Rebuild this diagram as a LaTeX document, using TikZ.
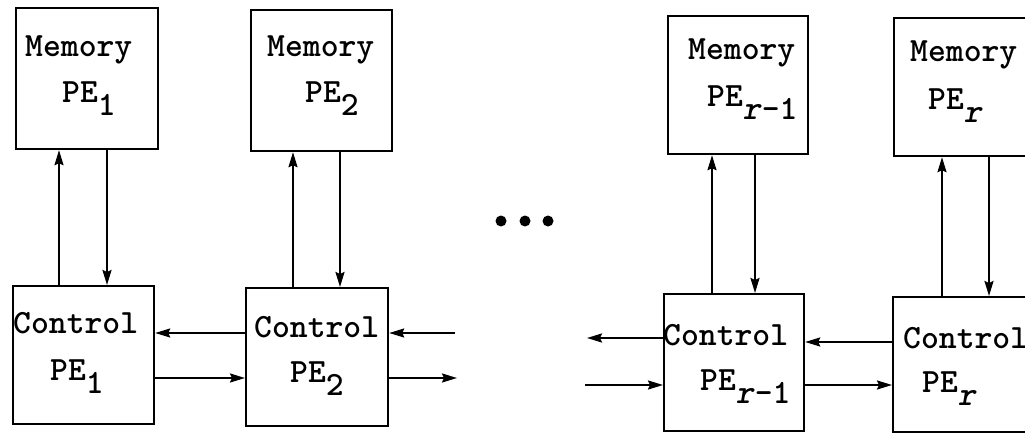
\documentclass[tikz,border=0pt]{standalone}
\usepackage{fontspec}
\usetikzlibrary{arrows.meta}
% subscript set nearly full size and dropped below the baseline
\newcommand\lowsub[1]{\raisebox{-13pt}{#1}}

\begin{document}
\begin{tikzpicture}[x=1pt,y=-1pt,
  box/.style={draw,line width=2.2pt,inner sep=0pt,anchor=north west},
  lbl/.style={anchor=base west,inner sep=0pt,font=\fontsize{34}{34}\selectfont\ttfamily\bfseries},
  arr/.style={line width=2pt,-{Stealth[length=15pt,width=9pt,inset=2pt]}},
]
\useasboundingbox (0,0) rectangle (1025,433);
\clip (0,0) rectangle (1025,433);

% memory and control units
\node[box,minimum width=142pt,minimum height=141pt] (m1) at (15,7) {};
\node[box,minimum width=141pt,minimum height=138pt] (c1) at (12,285) {};
\node[box,minimum width=141pt,minimum height=141pt] (m2) at (250,9) {};
\node[box,minimum width=142pt,minimum height=138pt] (c2) at (245,287) {};
\node[box,minimum width=140pt,minimum height=138pt] (m3) at (667,15) {};
\node[box,minimum width=140pt,minimum height=137pt] (c3) at (663,293) {};
\node[box,minimum width=141pt,minimum height=138pt] (m4) at (893,17) {};
\node[box,minimum width=141pt,minimum height=135pt] (c4) at (892,296) {};

% labels
\node[lbl] (m1a) at (25,57) {Memory};
\node[lbl] (m1b) at (62,103) {PE\lowsub{1}};
\node[lbl] (m2a) at (267,57) {Memory};
\node[lbl] (m2b) at (305,103) {PE\lowsub{2}};
\node[lbl] (m3a) at (688,60) {Memory};
\node[lbl] (m3b) at (707,107) {PE\lowsub{\textit{r}-1}};
\node[lbl] (m4a) at (910,62) {Memory};
\node[lbl] (m4b) at (928,110) {PE\lowsub{\textit{r}}};

\node[lbl] (c1a) at (13,333) {Control};
\node[lbl] (c1b) at (50,380) {PE\lowsub{1}};
\node[lbl] (c2a) at (254,337) {Control};
\node[lbl] (c2b) at (290,382) {PE\lowsub{2}};
\node[lbl] (c3a) at (663,345) {Control};
\node[lbl] (c3b) at (700,390) {PE\lowsub{\textit{r}-1}};
\node[lbl] (c4a) at (903,348) {Control};
\node[lbl] (c4b) at (922,392) {PE\lowsub{\textit{r}}};

% control <-> memory links
\draw[arr] ([xshift=47pt]c1.north west) -- ([xshift=44pt]m1.south west);
\draw[arr] ([xshift=92pt]m1.south west) -- ([xshift=95pt]c1.north west);
\draw[arr] ([xshift=48pt]c2.north west) -- ([xshift=43pt]m2.south west);
\draw[arr] ([xshift=90pt]m2.south west) -- ([xshift=95pt]c2.north west);
\draw[arr] ([xshift=49pt]c3.north west) -- ([xshift=45pt]m3.south west);
\draw[arr] ([xshift=88pt]m3.south west) -- ([xshift=92pt]c3.north west);
\draw[arr] ([xshift=50pt]c4.north west) -- ([xshift=49pt]m4.south west);
\draw[arr] ([xshift=96pt]m4.south west) -- ([xshift=97pt]c4.north west);

% neighbour links between control units
\draw[arr] ([yshift=-46pt]c2.north west) -- ([yshift=-48pt]c1.north east);
\draw[arr] ([yshift=-93pt]c1.north east) -- ([yshift=-91pt]c2.north west);
\draw[arr] ([yshift=-46pt]c4.north west) -- ([yshift=-49pt]c3.north east);
\draw[arr] ([yshift=-92pt]c3.north east) -- ([yshift=-89pt]c4.north west);

% open links towards the omitted units
\coordinate (o1) at (455,333);
\coordinate (o2) at (457,378);
\coordinate (i1) at (587,338);
\coordinate (i2) at (585,385);
\draw[arr] (o1) -- ([yshift=-46pt]c2.north east);
\draw[arr] ([yshift=-91pt]c2.north east) -- (o2);
\draw[arr] ([yshift=-45pt]c3.north west) -- (i1);
\draw[arr] (i2) -- ([yshift=-92pt]c3.north west);

% ellipsis
\fill (501,221) circle (5.5pt);
\fill (525,221) circle (5.5pt);
\fill (548,221) circle (5.5pt);
\end{tikzpicture}
\end{document}
